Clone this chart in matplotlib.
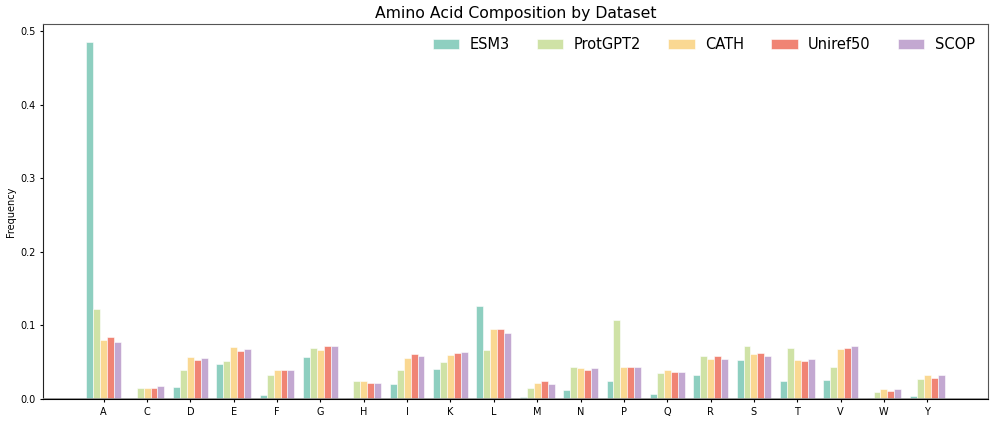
import numpy as np
import matplotlib
matplotlib.use("Agg")
import matplotlib.pyplot as plt

# amino acids and per-dataset frequencies
amino_acids = ['A', 'C', 'D', 'E', 'F', 'G', 'H', 'I', 'K', 'L',
               'M', 'N', 'P', 'Q', 'R', 'S', 'T', 'V', 'W', 'Y']

esm3 = [0.485, 0.001, 0.017, 0.048, 0.006, 0.057, 0.002, 0.021, 0.041, 0.127,
        0.003, 0.012, 0.024, 0.007, 0.032, 0.053, 0.025, 0.026, 0.001, 0.004]
protgpt2 = [0.123, 0.015, 0.040, 0.052, 0.033, 0.069, 0.024, 0.040, 0.050, 0.067,
            0.015, 0.043, 0.107, 0.035, 0.059, 0.072, 0.069, 0.043, 0.010, 0.027]
cath = [0.080, 0.015, 0.057, 0.071, 0.039, 0.067, 0.025, 0.056, 0.060, 0.095,
        0.022, 0.042, 0.043, 0.040, 0.054, 0.061, 0.053, 0.068, 0.014, 0.032]
uniref50 = [0.084, 0.015, 0.053, 0.065, 0.039, 0.072, 0.022, 0.061, 0.062, 0.095,
            0.025, 0.039, 0.044, 0.037, 0.058, 0.062, 0.052, 0.070, 0.011, 0.028]
scop = [0.078, 0.018, 0.056, 0.068, 0.039, 0.072, 0.022, 0.058, 0.064, 0.090,
        0.021, 0.042, 0.044, 0.037, 0.054, 0.058, 0.054, 0.072, 0.014, 0.033]

datasets = {
    'ESM3': (esm3, '#8ecfc0'),
    'ProtGPT2': (protgpt2, '#cfe2a6'),
    'CATH': (cath, '#fad892'),
    'Uniref50': (uniref50, '#f08474'),
    'SCOP': (scop, '#c3a8d1'),
}

fig = plt.figure(figsize=(9.96, 4.23), dpi=100)
ax = fig.add_axes([43 / 996, 1 - 399 / 423, 945 / 996, 375 / 423])

x = np.arange(len(amino_acids))
width = 0.16
n = len(datasets)
for i, (label, (vals, color)) in enumerate(datasets.items()):
    offset = (i - (n - 1) / 2) * width
    ax.bar(x + offset, vals, width, label=label, color=color,
           edgecolor='white', linewidth=0.4)

ax.axhline(0, color='#888888', linewidth=1.2, zorder=3)

ax.set_xticks(x)
ax.set_xticklabels(amino_acids, fontsize=7)
ax.tick_params(axis='both', labelsize=7, length=2.5, pad=3)
ax.set_xlim(-1.4, 20.4)
ax.set_ylim(0, 0.51)
ax.set_ylabel('Frequency', fontsize=7, labelpad=3)
ax.set_title('Amino Acid Composition by Dataset', fontsize=11.25, pad=4)
ax.spines['left'].set_color('#222222')
for side in ['top', 'right']:
    ax.spines[side].set_color('#555555')
ax.legend(ncol=5, frameon=False, fontsize=10.5, loc='upper right',
          bbox_to_anchor=(1.0, 1.0), columnspacing=1.87, handlelength=1.8,
          handletextpad=0.72)

plt.savefig('out.png', dpi=100)
plt.close()
